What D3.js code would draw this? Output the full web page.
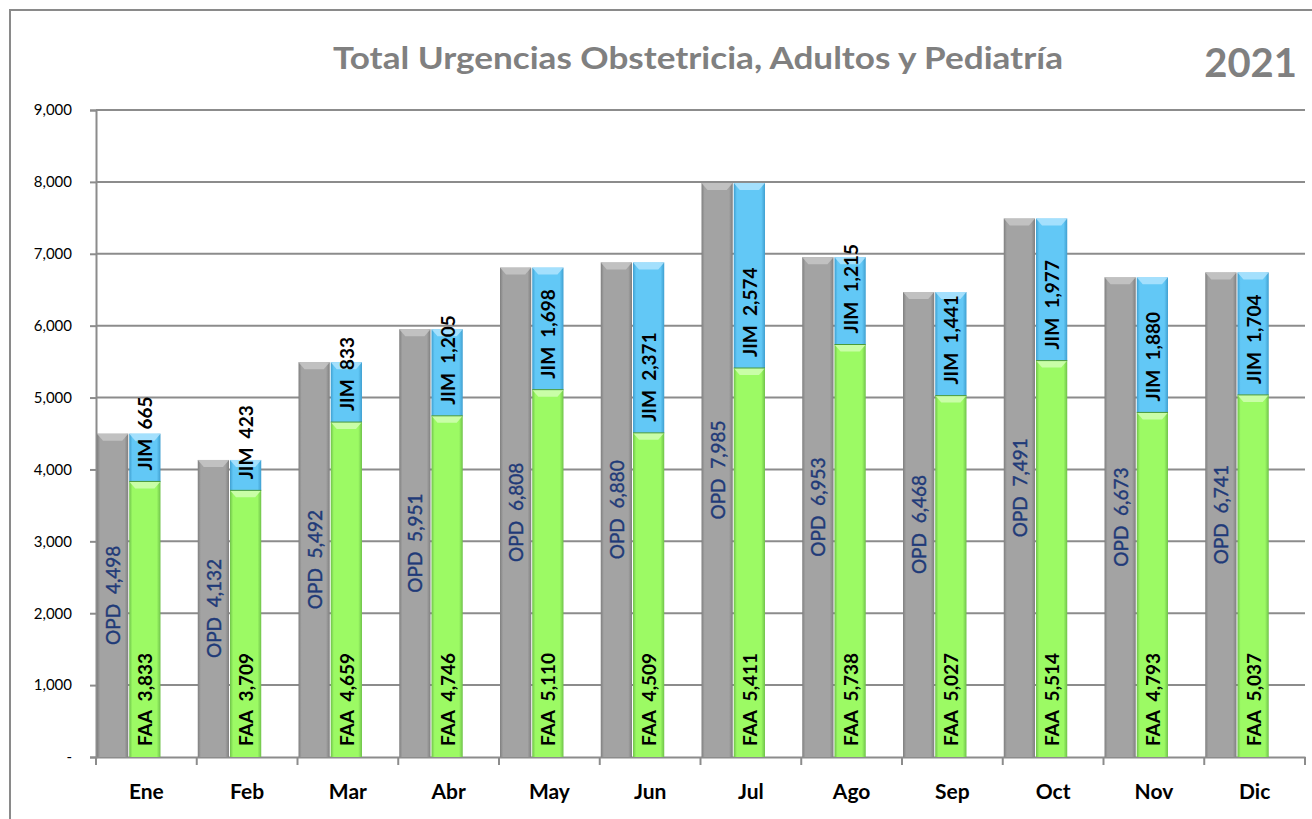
<!DOCTYPE html>
<html>
<head>
<meta charset="utf-8">
<script src="https://cdn.jsdelivr.net/npm/d3@7"></script>
<style>
  body { margin: 0; background: #fff; }
  text { font-family: Lato, "Open Sans", sans-serif; }
</style>
</head>
<body>
<div id="body"></div>
<script>
// data
var months = ['Ene', 'Feb', 'Mar', 'Abr', 'May', 'Jun', 'Jul', 'Ago', 'Sep', 'Oct', 'Nov', 'Dic'];
var opd = [4498, 4132, 5492, 5951, 6808, 6880, 7985, 6953, 6468, 7491, 6673, 6741];
var faa = [3833, 3709, 4659, 4746, 5110, 4509, 5411, 5738, 5027, 5514, 4793, 5037];
var jim = [665, 423, 833, 1205, 1698, 2371, 2574, 1215, 1441, 1977, 1880, 1704];
var yTicks = [0, 1000, 2000, 3000, 4000, 5000, 6000, 7000, 8000, 9000];

var width = 1312, height = 819;
// plot box (not "top", that one belongs to window)
var plotLeft = 96, plotRight = 1305, plotTop = 110, plotBottom = 757;

var fmt = d3.format(',');

var svg = d3.select('#body')
  .append('svg')
  .attr('width', width)
  .attr('height', height);

// gradients to fake the excel bevel look
var defs = svg.append('defs');
function grad (id, dark, mid) {
  var g = defs.append('linearGradient').attr('id', id)
    .attr('x1', 0).attr('x2', 1).attr('y1', 0).attr('y2', 0);
  g.append('stop').attr('offset', '0%').attr('stop-color', dark);
  g.append('stop').attr('offset', '10%').attr('stop-color', mid);
  g.append('stop').attr('offset', '88%').attr('stop-color', mid);
  g.append('stop').attr('offset', '100%').attr('stop-color', dark);
}
grad('gGray', '#7f7f7f', '#a3a3a3');
grad('gGreen', '#6fc24a', '#9cfa64');
grad('gBlue', '#3f9fd0', '#62c8f6');

// outer frame
svg.append('rect')
  .attr('x', 10).attr('y', 10)
  .attr('width', 1320).attr('height', 830)
  .attr('fill', 'none')
  .attr('stroke', '#8a8a8a')
  .attr('stroke-width', 2);

// titles
svg.append('text')
  .attr('x', 333).attr('y', 69)
  .attr('font-size', 31).attr('font-weight', 'bold')
  .attr('fill', '#808080')
  .attr('textLength', 730)
  .attr('lengthAdjust', 'spacingAndGlyphs')
  .text('Total Urgencias Obstetricia,  Adultos y Pediatría');

svg.append('text')
  .attr('x', 1297).attr('y', 77)
  .attr('text-anchor', 'end')
  .attr('font-size', 40).attr('font-weight', 'bold')
  .attr('fill', '#808080')
  .text('2021');

var x = d3.scaleBand().domain(months).range([plotLeft, plotRight]);
var sub = d3.scaleBand().domain(['opd', 'stack']).range([1, x.bandwidth() * 0.65]);
var y = d3.scaleLinear().domain([0, 9000]).range([plotBottom, plotTop]);

// gridlines
svg.append('g')
  .selectAll('line')
  .data(yTicks.slice(1))
  .enter()
  .append('line')
  .attr('x1', plotLeft).attr('x2', plotRight)
  .attr('y1', function(d){ return y(d); })
  .attr('y2', function(d){ return y(d); })
  .style('stroke', '#8c8c8c')
  .style('stroke-width', '2px');

// y axis
var yAxis = svg.append('g')
  .attr('transform', 'translate(' + plotLeft + ',0)')
  .call(d3.axisLeft(y).tickValues(yTicks).tickSize(6).tickPadding(18)
    .tickFormat(function(d){ return d === 0 ? '-' : fmt(d); }));
yAxis.selectAll('text').attr('font-size', 15).attr('fill', '#000')
  .style('font-family', 'Lato, sans-serif');
yAxis.selectAll('line').attr('stroke', '#8c8c8c').attr('stroke-width', 2);
yAxis.select('.domain').attr('stroke', '#8c8c8c').attr('stroke-width', 2);

// x axis
var xAxis = svg.append('g')
  .attr('transform', 'translate(0,' + plotBottom + ')')
  .call(d3.axisBottom(x).tickSize(0).tickPadding(27));
xAxis.select('.domain').attr('stroke', '#8c8c8c').attr('stroke-width', 2);
xAxis.selectAll('text').attr('font-size', 21).attr('font-weight', 'bold')
  .attr('fill', '#000').style('font-family', 'Lato, sans-serif');
// category tick marks at band edges
svg.append('g')
  .selectAll('line')
  .data(months.concat(['end']))
  .enter()
  .append('line')
  .attr('x1', function(d){ return d === 'end' ? plotRight : x(d); })
  .attr('x2', function(d){ return d === 'end' ? plotRight : x(d); })
  .attr('y1', plotBottom).attr('y2', plotBottom + 8)
  .style('stroke', '#8c8c8c')
  .style('stroke-width', '2px');

var rows = months.map(function(m, i){
  return { m: m, opd: opd[i], faa: faa[i], jim: jim[i] };
});

var groups = svg.append('g')
  .selectAll('g')
  .data(rows)
  .enter()
  .append('g')
  .attr('transform', function(d){ return 'translate(' + x(d.m) + ',0)'; });

var bw = sub.bandwidth() - 1;

function bar (sel, x0, y0, y1, fill, cap) {
  sel.append('rect')
    .attr('x', x0).attr('y', y1)
    .attr('width', bw).attr('height', y0 - y1)
    .attr('fill', fill);
  // little bevel on top
  sel.append('path')
    .attr('d', 'M' + x0 + ',' + y1 + 'h' + bw + 'l-6,7h' + (12 - bw) + 'z')
    .attr('fill', cap).attr('opacity', 0.8);
}

groups.each(function(d){
  var g = d3.select(this);
  var xo = sub('opd'), xs = sub('stack');
  bar(g, xo, y(0), y(d.opd), 'url(#gGray)', '#c8c8c8');
  bar(g, xs, y(0), y(d.faa), 'url(#gGreen)', '#d4ffb8');
  bar(g, xs, y(d.faa), y(d.faa + d.jim), 'url(#gBlue)', '#b5e6ff');
  g.append('line')
    .attr('x1', xs).attr('x2', xs + bw)
    .attr('y1', y(d.faa)).attr('y2', y(d.faa))
    .attr('stroke', '#4a9a3a').attr('stroke-width', 1);

  // OPD label, centered in the grey bar
  g.append('text')
    .attr('transform', 'translate(' + (xo + bw / 2) + ',' + y(d.opd / 2) + ') rotate(-90)')
    .attr('text-anchor', 'middle')
    .attr('dominant-baseline', 'central')
    .attr('font-size', 19)
    .attr('fill', '#1f3a78')
    .attr('stroke', '#1f3a78').attr('stroke-width', 0.4)
    .text('OPD\u00a0\u00a0' + fmt(d.opd));

  // FAA label, inside base
  g.append('text')
    .attr('transform', 'translate(' + (xs + bw / 2) + ',' + (y(0) - 11) + ') rotate(-90)')
    .attr('text-anchor', 'start')
    .attr('dominant-baseline', 'central')
    .attr('font-size', 19).attr('font-weight', 'bold')
    .attr('fill', '#000')
    .text('FAA\u00a0\u00a0' + fmt(d.faa));

  // JIM label, from the bottom of the blue segment
  g.append('text')
    .attr('transform', 'translate(' + (xs + bw / 2) + ',' + (y(d.faa) - 11) + ') rotate(-90)')
    .attr('text-anchor', 'start')
    .attr('dominant-baseline', 'central')
    .attr('font-size', 19).attr('font-weight', 'bold')
    .attr('fill', '#000')
    .text('JIM\u00a0\u00a0' + fmt(d.jim));
});
</script>
</body>
</html>
